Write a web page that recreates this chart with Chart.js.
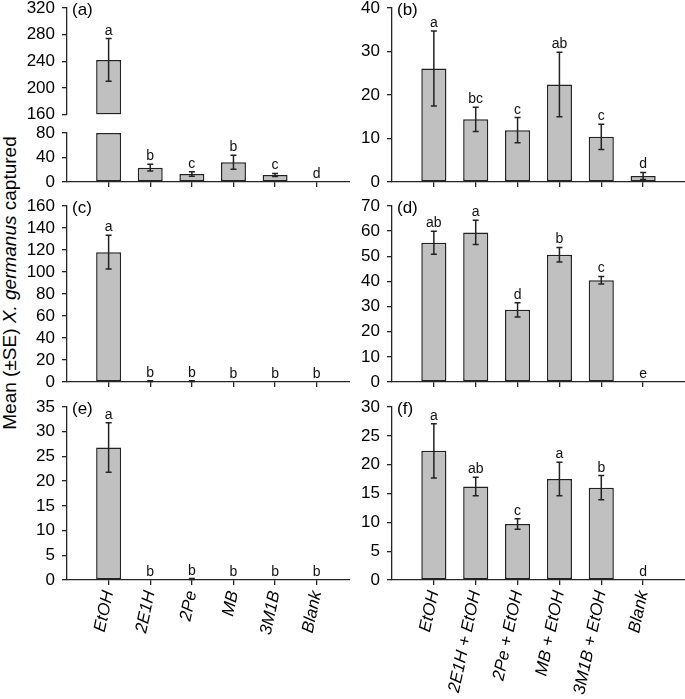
<!DOCTYPE html>
<html>
<head>
<meta charset="utf-8">
<script src="https://cdn.jsdelivr.net/npm/chart.js@4/dist/chart.umd.min.js"></script>
<style>
  html, body { margin: 0; padding: 0; background: #fff; }
  body { width: 685px; height: 699px; position: relative; overflow: hidden; }
  canvas { position: absolute; }
  #ytitle {
    position: absolute; left: 10px; top: 283px;
    font-family: "Liberation Sans", Arial, sans-serif; font-size: 19px; color: #000;
    white-space: nowrap; transform: translate(-50%, -50%) rotate(-90deg);
  }
</style>
</head>
<body>
<div id="ytitle">Mean (±SE) <i>X. germanus</i> captured</div>
<canvas id="pa" width="350" height="210" style="left:0px;top:-10px"></canvas>
<canvas id="pb" width="340" height="210" style="left:345px;top:-10px"></canvas>
<canvas id="pc" width="350" height="212" style="left:0px;top:188px"></canvas>
<canvas id="pd" width="340" height="212" style="left:345px;top:188px"></canvas>
<canvas id="pe" width="350" height="310" style="left:0px;top:389px"></canvas>
<canvas id="pf" width="340" height="310" style="left:345px;top:389px"></canvas>
<script>
const categoriesLeft = ['EtOH', '2E1H', '2Pe', 'MB', '3M1B', 'Blank'];
const categoriesRight = ['EtOH', '2E1H + EtOH', '2Pe + EtOH', 'MB + EtOH', '3M1B + EtOH', 'Blank'];

// (a) broken axis: low part 0-80, high part 160-320
const meanA = [242, 23.3, 13, 32.2, 11.5, 0];
const seA = [32, 5.5, 3.8, 11.4, 2.5, 0];
const lettersA = ['a', 'b', 'c', 'b', 'c', 'd'];
const ticksALow = [0, 40, 80];
const ticksAHigh = [160, 200, 240, 280, 320];

// (b)
const meanB = [26.1, 14.4, 11.9, 22.4, 10.4, 1.4];
const seB = [8.6, 2.8, 2.9, 7.4, 2.9, 0.8];
const lettersB = ['a', 'bc', 'c', 'ab', 'c', 'd'];
const ticksB = [0, 10, 20, 30, 40];

// (c)
const meanC = [118, 0.8, 0.8, 0, 0, 0];
const seC = [15.3, 0.3, 0.3, 0, 0, 0];
const lettersC = ['a', 'b', 'b', 'b', 'b', 'b'];
const ticksC = [0, 20, 40, 60, 80, 100, 120, 140, 160];

// (d)
const meanD = [55.4, 59.5, 28.7, 50.6, 40.5, 0];
const seD = [4.6, 4.8, 2.8, 2.9, 1.5, 0];
const lettersD = ['ab', 'a', 'd', 'b', 'c', 'e'];
const ticksD = [0, 10, 20, 30, 40, 50, 60, 70];

// (e)
const meanE = [26.8, 0, 0.2, 0, 0, 0];
const seE = [5.0, 0, 0.1, 0, 0, 0];
const lettersE = ['a', 'b', 'b', 'b', 'b', 'b'];
const ticksE = [0, 5, 10, 15, 20, 25, 30, 35];

// (f)
const meanF = [22.4, 16.2, 9.7, 17.5, 16.0, 0];
const seF = [4.7, 1.6, 0.9, 2.9, 2.1, 0];
const lettersF = ['a', 'ab', 'c', 'a', 'b', 'd'];
const ticksF = [0, 5, 10, 15, 20, 25, 30];

const FONT = '"Liberation Sans", Arial, sans-serif';
const AXIS = '#262626';
const BAR_FILL = '#c0c0c0';
const BAR_EDGE = '#222';

// draws error bars, significance letters and the panel tag
const annotate = {
  id: 'annotate',
  afterDatasetsDraw(chart, args, opts) {
    const ctx = chart.ctx;
    const xs = chart.scales.x;
    ctx.save();
    opts.means.forEach((m, i) => {
      const ys = (opts.breakAt !== undefined && m > opts.breakAt) ? chart.scales.yHigh : chart.scales.y;
      const px = xs.getPixelForValue(i + 1);
      const s = opts.se[i];
      let top = ys.getPixelForValue(m);
      if (s > 0) {
        const hi = ys.getPixelForValue(m + s);
        const lo = ys.getPixelForValue(Math.max(m - s, 0));
        ctx.strokeStyle = BAR_EDGE;
        ctx.lineWidth = 1.5;
        ctx.beginPath();
        ctx.moveTo(px, hi); ctx.lineTo(px, lo);
        ctx.moveTo(px - 3, hi); ctx.lineTo(px + 3, hi);
        ctx.moveTo(px - 3, lo); ctx.lineTo(px + 3, lo);
        ctx.stroke();
        top = Math.min(top, hi);
      }
      ctx.fillStyle = '#111';
      ctx.font = '14px ' + FONT;
      ctx.textAlign = 'center';
      ctx.textBaseline = 'alphabetic';
      ctx.fillText(opts.letters[i], px, top - 4);
    });
    ctx.fillStyle = '#000';
    ctx.font = '17px ' + FONT;
    ctx.textAlign = 'left';
    ctx.textBaseline = 'middle';
    ctx.fillText(opts.label, chart.chartArea.left + 5, chart.chartArea.top + 2);
    ctx.restore();
  }
};

function yScale(ticks, width, extra) {
  return Object.assign({
    position: 'left',
    min: ticks[0],
    max: ticks[ticks.length - 1],
    afterBuildTicks: s => { s.ticks = ticks.map(v => ({ value: v })); },
    afterFit: s => { s.width = width; },
    grid: { drawOnChartArea: false, drawTicks: true, tickLength: 5, color: AXIS, lineWidth: 1.3 },
    border: { display: true, color: AXIS, width: 1.3 },
    ticks: { autoSkip: false, padding: 7, color: '#000', font: { family: FONT, size: 17 } }
  }, extra || {});
}

function buildPanel(id, cfg) {
  const cats = cfg.categories;
  const barStyle = {
    backgroundColor: BAR_FILL,
    borderColor: BAR_EDGE,
    borderWidth: 1.5,
    borderSkipped: false,
    grouped: false,
    barPercentage: 0.6,
    categoryPercentage: 1
  };
  const datasets = [];
  const scales = {
    x: {
      type: 'linear',
      position: 'bottom',
      offset: false,
      min: 0,
      max: cfg.xMax,
      afterBuildTicks: s => { s.ticks = cats.map((c, i) => ({ value: i + 1 })); },
      afterFit: s => { s.height = cfg.xHeight; },
      grid: { offset: false, drawOnChartArea: false, drawTicks: true, tickLength: 5, color: AXIS, lineWidth: 1.3 },
      border: { display: true, color: AXIS, width: 1.3 },
      ticks: {
        display: cfg.showLabels,
        autoSkip: false,
        minRotation: 78,
        maxRotation: 78,
        padding: 4,
        color: '#000',
        font: { family: FONT, size: 17, style: 'italic' },
        callback: v => cats[v - 1]
      }
    }
  };

  if (cfg.highTicks) {
    const lowMax = cfg.ticks[cfg.ticks.length - 1];
    const highMin = cfg.highTicks[0];
    datasets.push(Object.assign({
      yAxisID: 'y',
      data: cfg.means.map((v, i) => ({ x: i + 1, y: Math.min(v, lowMax) }))
    }, barStyle));
    datasets.push(Object.assign({
      yAxisID: 'yHigh',
      data: cfg.means.map((v, i) => ({ x: i + 1, y: [highMin, v] })).filter(d => d.y[1] > highMin)
    }, barStyle));
    scales.y = yScale(cfg.ticks, cfg.yWidth, { stack: 'brk', stackWeight: 49, weight: 1 });
    scales.yGap = {
      position: 'left', stack: 'brk', stackWeight: 18.5, weight: 2, min: 0, max: 1,
      afterFit: s => { s.width = cfg.yWidth; },
      grid: { display: false }, border: { display: false }, ticks: { display: false }
    };
    scales.yHigh = yScale(cfg.highTicks, cfg.yWidth, { stack: 'brk', stackWeight: 106.5, weight: 3 });
  } else {
    datasets.push(Object.assign({
      yAxisID: 'y',
      data: cfg.means.map((v, i) => ({ x: i + 1, y: v }))
    }, barStyle));
    scales.y = yScale(cfg.ticks, cfg.yWidth);
  }

  new Chart(document.getElementById(id), {
    type: 'bar',
    data: { datasets: datasets },
    options: {
      responsive: false,
      animation: false,
      events: [],
      layout: { padding: { top: 18, left: 0, right: 0, bottom: 0 } },
      plugins: {
        legend: { display: false },
        tooltip: { enabled: false },
        annotate: {
          means: cfg.means,
          se: cfg.se,
          letters: cfg.letters,
          label: cfg.label,
          breakAt: cfg.highTicks ? cfg.highTicks[0] : undefined
        }
      },
      scales: scales
    },
    plugins: [annotate]
  });
}

buildPanel('pa', { categories: categoriesLeft, means: meanA, se: seA, letters: lettersA, ticks: ticksALow, highTicks: ticksAHigh, label: '(a)', xMax: 6.8, xHeight: 18, yWidth: 67, showLabels: false });
buildPanel('pb', { categories: categoriesRight, means: meanB, se: seB, letters: lettersB, ticks: ticksB, label: '(b)', xMax: 7, xHeight: 18, yWidth: 47, showLabels: false });
buildPanel('pc', { categories: categoriesLeft, means: meanC, se: seC, letters: lettersC, ticks: ticksC, label: '(c)', xMax: 6.8, xHeight: 18, yWidth: 67, showLabels: false });
buildPanel('pd', { categories: categoriesRight, means: meanD, se: seD, letters: lettersD, ticks: ticksD, label: '(d)', xMax: 7, xHeight: 18, yWidth: 47, showLabels: false });
buildPanel('pe', { categories: categoriesLeft, means: meanE, se: seE, letters: lettersE, ticks: ticksE, label: '(e)', xMax: 6.8, xHeight: 119, yWidth: 67, showLabels: true });
buildPanel('pf', { categories: categoriesRight, means: meanF, se: seF, letters: lettersF, ticks: ticksF, label: '(f)', xMax: 7, xHeight: 119, yWidth: 47, showLabels: true });
</script>
</body>
</html>
